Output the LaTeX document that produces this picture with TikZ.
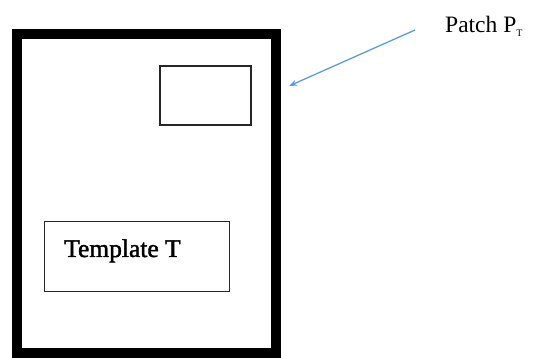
\documentclass[tikz,border=0pt]{standalone}
\usepackage{fontspec}
\setmainfont{Liberation Serif}
\newfontfamily\heavyserif[FakeBold=1.6]{Liberation Serif}
\usetikzlibrary{arrows.meta}
\definecolor{arrowblue}{HTML}{5B9BD5}
\begin{document}
\begin{tikzpicture}[x=1pt,y=-1pt,
  frame/.style={draw=black,line width=10pt},
  boxline/.style={draw=black!85,line width=1.6pt},
  pointer/.style={draw=arrowblue,line width=1.3pt,-{Stealth[length=8pt,width=6pt]}}]
  \useasboundingbox (0,0) rectangle (536,358);
  % outer frame
  \draw[frame] (17,34) rectangle (276,353);
  % patch box
  \node[boxline,minimum width=91pt,minimum height=59pt,inner sep=0pt,anchor=north west] (patch) at (159,65) {};
  % template box
  \node[boxline,line width=1.3pt,minimum width=185pt,minimum height=70pt,inner sep=0pt,anchor=north west] (tmpl) at (44,221) {};
  \node[anchor=base west,inner sep=0pt,font=\heavyserif\fontsize{25.5}{28}\selectfont] (tlabel) at (64,257) {Template T};
  % patch label and pointer
  \node[anchor=base west,inner sep=0pt,font=\fontsize{23.5}{26}\selectfont] (plabel) at (445,33) {Patch P\textsubscript{\fontsize{10}{11}\selectfont T}};
  \coordinate (tail) at (415,30);
  \coordinate (tip) at (289,86);
  \draw[pointer] (tail) -- (tip);
\end{tikzpicture}
\end{document}
